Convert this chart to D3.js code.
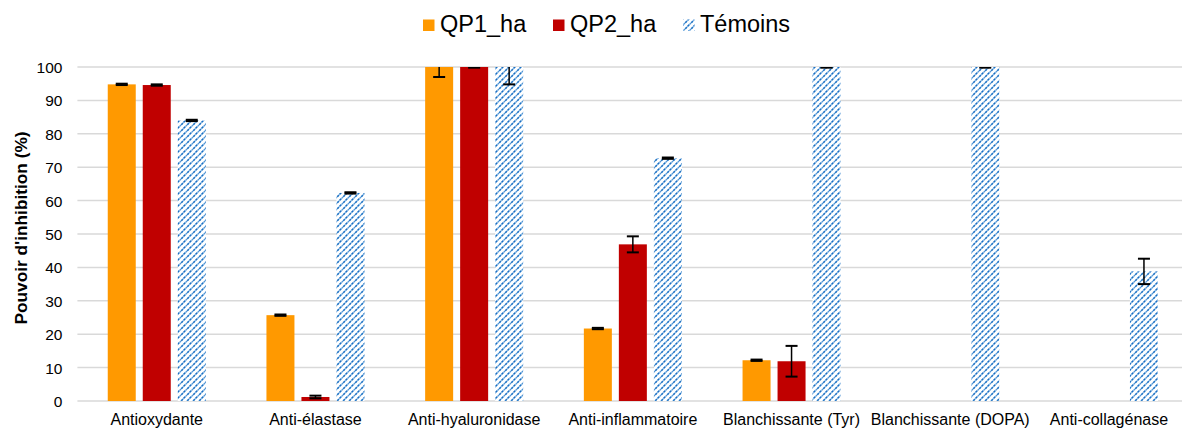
<!DOCTYPE html>
<html>
<head>
<meta charset="utf-8">
<script src="https://cdn.jsdelivr.net/npm/d3@7/dist/d3.min.js"></script>
<style>
  html, body { margin: 0; padding: 0; background: #fff; }
  svg { display: block; font-family: "Liberation Sans", Arial, sans-serif; }
</style>
</head>
<body>
<svg id="chart" width="1182" height="429"></svg>
<script>
// Activity categories along the x axis
const categories = ["Antioxydante", "Anti-élastase", "Anti-hyaluronidase", "Anti-inflammatoire",
                    "Blanchissante (Tyr)", "Blanchissante (DOPA)", "Anti-collagénase"];
const seriesNames = ["QP1_ha", "QP2_ha", "Témoins"];

// Inhibition (%) per series, in category order
const qp1Values = [94.8, 25.7, 100, 21.7, 12.2, 0, 0];
const qp2Values = [94.6, 1.2, 100, 46.9, 11.9, 0, 0];
const temoinValues = [84.0, 62.3, 100, 72.7, 100, 100, 38.8];

// Standard deviations
const qp1Errors = [0.2, 0.2, 3.0, 0.2, 0.2, 0, 0];
const qp2Errors = [0.2, 0.4, 0.2, 2.4, 4.6, 0, 0];
const temoinErrors = [0.2, 0.2, 5.2, 0.2, 0.2, 0.2, 3.8];

const yTicks = [0, 10, 20, 30, 40, 50, 60, 70, 80, 90, 100];

const seriesValues = [qp1Values, qp2Values, temoinValues];
const seriesErrors = [qp1Errors, qp2Errors, temoinErrors];

const svg = d3.select("#chart");
const plotLeft = 77.4, plotRight = 1188.3, plotTop = 67, plotBottom = 401;

const x = d3.scaleBand().domain(categories).range([plotLeft, plotRight]).padding(0);
const xs = d3.scaleBand().domain(seriesNames).range([-52.5, 52.5]).paddingInner(0.2).paddingOuter(0.1);
const y = d3.scaleLinear().domain([0, 100]).range([plotBottom, plotTop]);

// Upward diagonal hatch used for the control series
const defs = svg.append("defs");
const pat = defs.append("pattern")
  .attr("id", "hatch").attr("patternUnits", "userSpaceOnUse")
  .attr("width", 6).attr("height", 6);
pat.append("rect").attr("width", 6).attr("height", 6).attr("fill", "#ffffff");
const hatchPath = "M-1,7 L7,-1 M-4,4 L4,-4 M2,10 L10,2";
pat.append("path").attr("d", hatchPath)
  .attr("stroke", "#8CBDE8").attr("stroke-width", 1.4);
pat.append("path").attr("d", hatchPath)
  .attr("stroke", "#1B6FC2").attr("stroke-width", 1.4).attr("stroke-dasharray", "2.1,1.2");

defs.append("clipPath").attr("id", "plotclip")
  .append("rect").attr("x", 0).attr("y", plotTop).attr("width", 1182).attr("height", plotBottom - plotTop + 20);

const fills = ["#FF9900", "#C00000", "url(#hatch)"];

// Gridlines
svg.append("g").selectAll("line").data(yTicks).join("line")
  .attr("x1", plotLeft).attr("x2", plotRight)
  .attr("y1", d => y(d)).attr("y2", d => y(d))
  .attr("stroke", "#d9d9d9").attr("stroke-width", 1.5);

// Y tick labels
const yAxis = d3.axisLeft(y).tickValues(yTicks).tickSize(0).tickPadding(0);
const gy = svg.append("g").attr("transform", `translate(${plotLeft - 15},0.6)`).call(yAxis);
gy.select(".domain").remove();
gy.selectAll("text").attr("font-size", 15.5).attr("fill", "#000")
  .attr("font-family", "'Liberation Sans', Arial, sans-serif");

// X category labels
const xAxis = d3.axisBottom(x).tickSize(0).tickPadding(0);
const gx = svg.append("g").attr("transform", `translate(0,${plotBottom + 24})`).call(xAxis);
gx.select(".domain").remove();
gx.selectAll("text").attr("font-size", 16).attr("fill", "#000").attr("dy", 0)
  .attr("font-family", "'Liberation Sans', Arial, sans-serif");

// Bars
const barsG = svg.append("g").attr("clip-path", "url(#plotclip)");
seriesNames.forEach((s, si) => {
  barsG.append("g").selectAll("rect")
    .data(categories.map((c, i) => ({ c, v: seriesValues[si][i] })))
    .join("rect")
    .attr("x", d => x(d.c) + x.bandwidth() / 2 + xs(s))
    .attr("width", xs.bandwidth())
    .attr("y", d => y(d.v))
    .attr("height", d => y(0) - y(d.v))
    .attr("fill", fills[si]);
});

// Error bars
const errG = svg.append("g").attr("clip-path", "url(#plotclip)");
seriesNames.forEach((s, si) => {
  const data = categories.map((c, i) => ({ c, v: seriesValues[si][i], e: seriesErrors[si][i] }))
    .filter(d => d.v > 0);
  const g = errG.append("g").selectAll("g").data(data).join("g")
    .attr("transform", d => `translate(${x(d.c) + x.bandwidth() / 2 + xs(s) + xs.bandwidth() / 2},0)`);
  g.append("line").attr("x1", 0).attr("x2", 0)
    .attr("y1", d => y(d.v + d.e)).attr("y2", d => y(d.v - d.e))
    .attr("stroke", "#000").attr("stroke-width", 1.5);
  g.append("line").attr("x1", -6).attr("x2", 6)
    .attr("y1", d => y(d.v + d.e)).attr("y2", d => y(d.v + d.e))
    .attr("stroke", "#000").attr("stroke-width", 2);
  g.append("line").attr("x1", -6).attr("x2", 6)
    .attr("y1", d => y(d.v - d.e)).attr("y2", d => y(d.v - d.e))
    .attr("stroke", "#000").attr("stroke-width", 2);
});

// Y axis title
svg.append("text")
  .attr("transform", `translate(27,${(plotTop + plotBottom) / 2 - 6}) rotate(-90)`)
  .attr("text-anchor", "middle")
  .attr("font-size", 17.3).attr("font-weight", "bold").attr("fill", "#000")
  .text("Pouvoir d'inhibition (%)");

// Legend
const legendX = [423, 553, 683];
const legend = svg.append("g");
seriesNames.forEach((s, si) => {
  legend.append("rect").attr("x", legendX[si]).attr("y", 19.5)
    .attr("width", 11.5).attr("height", 11.5).attr("fill", fills[si]);
  legend.append("text").attr("x", legendX[si] + 17).attr("y", 31.5)
    .attr("font-size", 23.5).attr("fill", "#000").text(s);
});
</script>
</body>
</html>
